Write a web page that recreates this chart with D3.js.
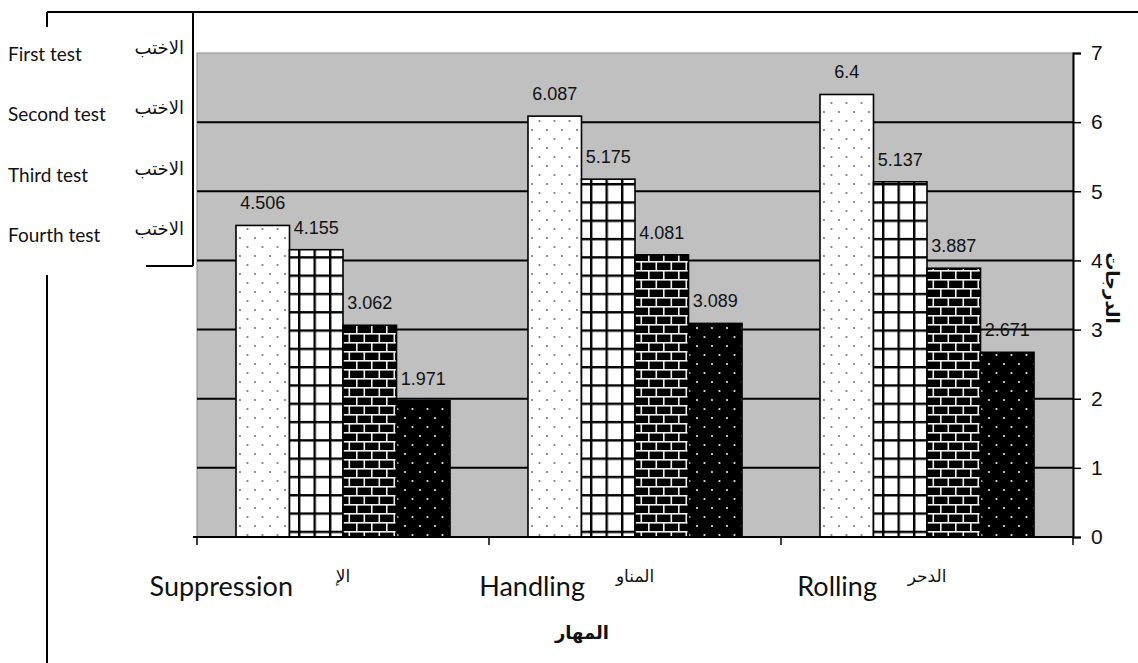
<!DOCTYPE html>
<html>
<head>
<meta charset="utf-8">
<script src="https://cdn.jsdelivr.net/npm/d3@7"></script>
<style>
  html, body { margin: 0; padding: 0; background: #fff; }
  svg { display: block; }
</style>
</head>
<body>
<svg id="chart" width="1138" height="663"></svg>
<script>
// Skills (English label + Arabic label)
const categories = ["Suppression", "Handling", "Rolling"];
const categoriesAr = ["الإ", "المناو", "الدحر"];

// Test series
const seriesNames = ["First test", "Second test", "Third test", "Fourth test"];
const seriesNamesAr = ["الاختب", "الاختب", "الاختب", "الاختب"];

// Scores per skill, one array per test
const firstTest  = [4.506, 6.087, 6.4];
const secondTest = [4.155, 5.175, 5.137];
const thirdTest  = [3.062, 4.081, 3.887];
const fourthTest = [1.971, 3.089, 2.671];

const yTicks = [0, 1, 2, 3, 4, 5, 6, 7];
const yTitle = "الدرجات";
const xTitle = "المهار";

const seriesValues = [firstTest, secondTest, thirdTest, fourthTest];
const patternIds = ["pDotsLight", "pGrid", "pBrick", "pDotsDark"];

const svg = d3.select("#chart");
const W = 1138, H = 663;
const plot = { left: 197, right: 1073, top: 53, bottom: 537 };

svg.append("rect").attr("width", W).attr("height", H).attr("fill", "#fff");

// ---------- fill patterns ----------
const defs = svg.append("defs");

function dotPattern(id, bg, dot) {
  const p = defs.append("pattern").attr("id", id)
    .attr("patternUnits", "userSpaceOnUse").attr("width", 15).attr("height", 18);
  p.append("rect").attr("width", 15).attr("height", 18).attr("fill", bg);
  p.append("circle").attr("cx", 4).attr("cy", 4).attr("r", 1.1).attr("fill", dot);
  p.append("circle").attr("cx", 11.5).attr("cy", 13).attr("r", 1.1).attr("fill", dot);
}
dotPattern("pDotsLight", "#fff", "#7a7a7a");
dotPattern("pDotsDark", "#000", "#e8e8e8");

{
  const p = defs.append("pattern").attr("id", "pGrid")
    .attr("patternUnits", "userSpaceOnUse").attr("width", 15.5).attr("height", 18.3);
  p.append("rect").attr("width", 15.5).attr("height", 18.3).attr("fill", "#fff");
  p.append("rect").attr("x", 0).attr("y", 0).attr("width", 2.4).attr("height", 18.3).attr("fill", "#000");
  p.append("rect").attr("x", 0).attr("y", 0).attr("width", 15.5).attr("height", 2.4).attr("fill", "#000");
}
{
  const p = defs.append("pattern").attr("id", "pBrick")
    .attr("patternUnits", "userSpaceOnUse").attr("width", 15).attr("height", 18);
  p.append("rect").attr("width", 15).attr("height", 18).attr("fill", "#000");
  const m = "#f2f2f2";
  p.append("rect").attr("x", 0).attr("y", 0).attr("width", 15).attr("height", 1.6).attr("fill", m);
  p.append("rect").attr("x", 0).attr("y", 9).attr("width", 15).attr("height", 1.6).attr("fill", m);
  p.append("rect").attr("x", 0).attr("y", 0).attr("width", 1.6).attr("height", 9).attr("fill", m);
  p.append("rect").attr("x", 7.5).attr("y", 9).attr("width", 1.6).attr("height", 9).attr("fill", m);
}

// ---------- scales ----------
const x0 = d3.scaleBand().domain(categories)
  .range([plot.left, plot.right]).paddingInner(0.267).paddingOuter(0.1335);
const x1 = d3.scaleBand().domain(seriesNames).range([0, x0.bandwidth()]);
const y = d3.scaleLinear().domain([0, 7]).range([plot.bottom, plot.top]);

// ---------- plot area ----------
svg.append("rect")
  .attr("x", plot.left).attr("y", plot.top)
  .attr("width", plot.right - plot.left).attr("height", plot.bottom - plot.top)
  .attr("fill", "#c0c0c0").attr("stroke", "#8a8a8a").attr("stroke-width", 1);

svg.append("g").selectAll("line")
  .data(yTicks.filter(t => t > 0 && t < 7))
  .join("line")
  .attr("x1", plot.left).attr("x2", plot.right)
  .attr("y1", d => y(d)).attr("y2", d => y(d))
  .attr("stroke", "#000").attr("stroke-width", 2);

// ---------- bars ----------
const groups = svg.append("g").selectAll("g")
  .data(categories)
  .join("g")
  .attr("transform", d => `translate(${x0(d)},0)`);

groups.each(function (cat, ci) {
  const g = d3.select(this);
  seriesNames.forEach((s, si) => {
    const v = seriesValues[si][ci];
    g.append("rect")
      .attr("x", x1(s)).attr("y", y(v))
      .attr("width", x1.bandwidth()).attr("height", y(0) - y(v))
      .attr("fill", `url(#${patternIds[si]})`)
      .attr("stroke", "#000").attr("stroke-width", 1.6);
    g.append("text")
      .attr("x", x1(s) + x1.bandwidth() / 2)
      .attr("y", y(v) - 16)
      .attr("text-anchor", "middle")
      .attr("font-family", "Liberation Sans, Arial, sans-serif")
      .attr("font-size", 18)
      .attr("fill", "#111")
      .text(v);
  });
});

// ---------- axes ----------
const yAxis = svg.append("g")
  .attr("transform", `translate(${plot.right},0)`)
  .call(d3.axisRight(y).tickValues(yTicks).tickSize(8).tickPadding(10).tickFormat(d3.format("d")));
yAxis.select(".domain").attr("stroke", "#000").attr("stroke-width", 2);
yAxis.selectAll(".tick line").attr("stroke", "#000").attr("stroke-width", 1.5);
yAxis.selectAll(".tick text")
  .attr("font-family", "Liberation Sans, Arial, sans-serif")
  .attr("font-size", 21).attr("fill", "#111");

const xAxis = svg.append("g").attr("transform", `translate(0,${plot.bottom})`);
xAxis.append("line")
  .attr("x1", plot.left - 4).attr("x2", plot.right)
  .attr("stroke", "#000").attr("stroke-width", 2);
const bounds = categories.map(c => x0(c) - x0.step() * x0.paddingInner() / 2)
  .concat([plot.right]);
xAxis.selectAll("line.tk").data(bounds).join("line")
  .attr("class", "tk")
  .attr("x1", d => d).attr("x2", d => d)
  .attr("y1", 0).attr("y2", 8)
  .attr("stroke", "#000").attr("stroke-width", 1.5);

// category labels
svg.append("g").selectAll("text")
  .data(categories).join("text")
  .attr("x", d => x0(d) + 57)
  .attr("y", 596)
  .attr("text-anchor", "end")
  .attr("font-family", "Lato, sans-serif")
  .attr("font-size", 27)
  .attr("fill", "#111")
  .text(d => d);

svg.append("g").selectAll("text")
  .data(categoriesAr).join("text")
  .attr("x", (d, i) => x0(categories[i]) + x0.bandwidth() / 2)
  .attr("y", 582)
  .attr("text-anchor", "middle")
  .attr("font-family", "DejaVu Sans, sans-serif")
  .attr("font-size", 17)
  .attr("fill", "#111")
  .text(d => d);

svg.append("text")
  .attr("x", x0("Handling") + x0.bandwidth() / 2 - 53)
  .attr("y", 639)
  .attr("text-anchor", "middle")
  .attr("font-family", "DejaVu Sans, sans-serif")
  .attr("font-weight", "bold")
  .attr("font-size", 18)
  .attr("fill", "#111")
  .text(xTitle);

svg.append("text")
  .attr("transform", "translate(1106,288) rotate(90)")
  .attr("text-anchor", "middle")
  .attr("font-family", "DejaVu Sans, sans-serif")
  .attr("font-weight", "bold")
  .attr("font-size", 18)
  .attr("fill", "#111")
  .text(yTitle);

// ---------- frame and legend ----------
const frame = svg.append("g").attr("stroke", "#000").attr("stroke-width", 2).attr("fill", "none");
frame.append("line").attr("x1", 47).attr("x2", W).attr("y1", 12).attr("y2", 12);
frame.append("line").attr("x1", 47).attr("x2", 47).attr("y1", 12).attr("y2", 27);
frame.append("line").attr("x1", 47).attr("x2", 47).attr("y1", 275).attr("y2", H);
frame.append("line").attr("x1", 193).attr("x2", 193).attr("y1", 12).attr("y2", 266);
frame.append("line").attr("x1", 146).attr("x2", 193).attr("y1", 266).attr("y2", 266);

const legend = svg.append("g").selectAll("g")
  .data(seriesNames).join("g")
  .attr("transform", (d, i) => `translate(0,${61 + i * 60.3})`);
legend.append("text")
  .attr("x", 8).attr("y", 0)
  .attr("font-family", "Lato, sans-serif")
  .attr("font-size", 19)
  .attr("fill", "#111")
  .text(d => d);
legend.append("text")
  .attr("x", 184).attr("y", -7)
  .attr("text-anchor", "end")
  .attr("font-family", "DejaVu Sans, sans-serif")
  .attr("font-size", 18)
  .attr("fill", "#111")
  .text((d, i) => seriesNamesAr[i]);
</script>
</body>
</html>
